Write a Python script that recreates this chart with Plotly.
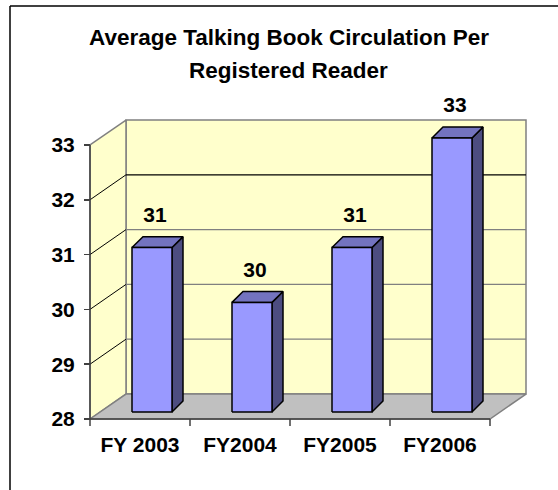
import plotly.graph_objects as go

categories = ["FY 2003", "FY2004", "FY2005", "FY2006"]
values = [31, 30, 31, 33]
y_ticks = [28, 29, 30, 31, 32, 33]
title_lines = ["Average Talking Book Circulation Per", "Registered Reader"]

Y_MIN, Y_MAX = 28, 33
X_MIN, X_MAX = -0.5, len(categories) - 0.5

# 3D projection offsets (data units)
WALL_DX, WALL_DY = 0.36, 0.456
BAR_FX, BAR_FY = 0.12, 0.128     # shift of bar front face
BAR_DX, BAR_DY = 0.11, 0.20      # bar depth
BAR_HALF = 0.2

WALL = "#FFFFCC"
FLOOR = "#C0C0C0"
EDGE = "#808080"
FONT = "Liberation Sans, Arial"

fig = go.Figure()

def poly(xs, ys, fill, line_color, width=1):
    fig.add_trace(go.Scatter(x=xs, y=ys, mode="lines", fill="toself", fillcolor=fill,
                             line=dict(color=line_color, width=width), hoverinfo="skip",
                             showlegend=False))

def seg(xs, ys, color, width=1):
    fig.add_trace(go.Scatter(x=xs, y=ys, mode="lines", line=dict(color=color, width=width),
                             hoverinfo="skip", showlegend=False))

# back wall
bx0, bx1 = X_MIN + WALL_DX, X_MAX + WALL_DX
by0, by1 = Y_MIN + WALL_DY, Y_MAX + WALL_DY
poly([bx0, bx1, bx1, bx0, bx0], [by0, by0, by1, by1, by0], WALL, EDGE, 1.5)
# side wall
poly([X_MIN, bx0, bx0, X_MIN, X_MIN], [Y_MIN, by0, by1, Y_MAX, Y_MIN], WALL, EDGE, 1.5)
# floor
poly([X_MIN, X_MAX, bx1, bx0, X_MIN], [Y_MIN, Y_MIN, by0, by0, Y_MIN], FLOOR, EDGE, 1.5)

# gridlines
for t in y_ticks[1:-1]:
    col = "#000000" if t == 32 else EDGE
    seg([bx0, bx1], [t + WALL_DY, t + WALL_DY], col, 1.2)
    seg([X_MIN, bx0], [t, t + WALL_DY], "#000000", 1)

# front floor edge and axis line
seg([X_MIN, X_MAX], [Y_MIN, Y_MIN], "#404040", 1.5)
seg([X_MIN, X_MIN], [Y_MIN, Y_MAX], "#404040", 1.5)
# category boundary ticks
tick_len = 0.13
tx, ty = [], []
for k in range(len(categories) + 1):
    b = X_MIN + k
    tx += [b, b, None]
    ty += [Y_MIN, Y_MIN - tick_len, None]
fig.add_trace(go.Scatter(x=tx, y=ty, mode="lines", line=dict(color="#404040", width=1.5),
                         hoverinfo="skip", showlegend=False))

# bars
fx, fy, sx, sy, topx, topy = [], [], [], [], [], []
for i, v in enumerate(values):
    l = i - BAR_HALF + BAR_FX
    r = i + BAR_HALF + BAR_FX
    b = Y_MIN + BAR_FY
    t = v + BAR_FY
    fx += [l, r, r, l, l, None]
    fy += [b, b, t, t, b, None]
    sx += [r, r + BAR_DX, r + BAR_DX, r, r, None]
    sy += [b, b + BAR_DY, t + BAR_DY, t, b, None]
    topx += [l, r, r + BAR_DX, l + BAR_DX, l, None]
    topy += [t, t, t + BAR_DY, t + BAR_DY, t, None]
for xs, ys, col in [(sx, sy, "#4D4D80"), (topx, topy, "#7373BF"), (fx, fy, "#9999FF")]:
    fig.add_trace(go.Scatter(x=xs, y=ys, mode="lines", fill="toself", fillcolor=col,
                             line=dict(color="#000000", width=1.5), hoverinfo="skip",
                             showlegend=False))

# data labels
fig.add_trace(go.Scatter(
    x=[i + 0.15 for i in range(len(values))],
    y=[v + 0.69 for v in values],
    mode="text", text=[str(v) for v in values], textposition="middle center",
    textfont=dict(family=FONT, size=21, color="#000000", weight="bold"),
    cliponaxis=False, hoverinfo="skip", showlegend=False))

W, H = 558, 490
PX_X = 100.0
PX_Y = 54.8
x0 = X_MIN - 90 / PX_X
y1 = Y_MIN + 419 / PX_Y

fig.update_layout(
    width=W, height=H, autosize=False,
    margin=dict(l=0, r=0, t=0, b=0),
    paper_bgcolor="white", plot_bgcolor="white",
    font=dict(family=FONT, color="#000000"),
    xaxis=dict(range=[x0, x0 + W / PX_X], showgrid=False, zeroline=False, showline=False,
               tickvals=list(range(len(categories))), ticktext=categories, ticks="",
               anchor="free", position=(H - 419) / H, ticklabelstandoff=11,
               tickfont=dict(size=21, weight="bold", color="#000000")),
    yaxis=dict(range=[y1 - H / PX_Y, y1], showgrid=False, zeroline=False, showline=False,
               tickvals=y_ticks, ticktext=[str(t) for t in y_ticks], ticks="outside",
               ticklen=6, tickcolor="#404040", tickwidth=1.5,
               anchor="free", position=90 / W, ticklabelstandoff=5,
               tickfont=dict(size=21, weight="bold", color="#000000")),
    shapes=[
        dict(type="line", xref="paper", yref="paper", x0=10 / W, x1=10 / W, y0=0, y1=1 - 6 / H,
             line=dict(color="#000000", width=1.5)),
        dict(type="line", xref="paper", yref="paper", x0=10 / W, x1=1, y0=1 - 6 / H, y1=1 - 6 / H,
             line=dict(color="#000000", width=1.5)),
    ],
    annotations=[
        dict(text=title_lines[0], xref="paper", yref="paper", x=289 / W, y=1 - 37 / H,
             showarrow=False, xanchor="center", yanchor="middle",
             font=dict(size=22.5, weight="bold", color="#000000")),
        dict(text=title_lines[1], xref="paper", yref="paper", x=289 / W, y=1 - 71 / H,
             showarrow=False, xanchor="center", yanchor="middle",
             font=dict(size=22.5, weight="bold", color="#000000")),
    ],
)

fig.write_html("out.html", config={"displayModeBar": False, "staticPlot": True},
               post_script="document.body.style.margin='0';document.body.style.overflow='hidden';")
